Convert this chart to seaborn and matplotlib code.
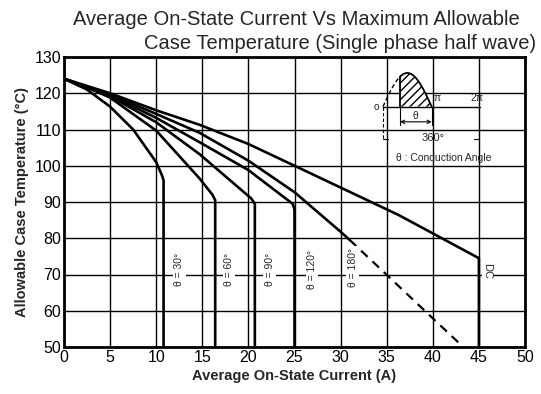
import numpy as np
import pandas as pd
import matplotlib
matplotlib.use("Agg")
import matplotlib.pyplot as plt
import seaborn as sns

# curve data (current A, case temperature degC)
deg30_x = [0, 2.5, 5, 7.5, 10, 10.6, 10.8, 10.8]
deg30_y = [124, 121, 116.3, 110, 101, 97.5, 96, 50]
deg60_x = [0, 2.5, 5, 10, 14.7, 16.1, 16.4, 16.4]
deg60_y = [124, 121.6, 118.8, 109.7, 96.5, 92, 90.5, 50]
deg90_x = [0, 5, 10, 14.7, 20.3, 20.7, 20.7]
deg90_y = [124, 119.2, 112, 103.2, 91, 89.5, 50]
deg120_x = [0, 5, 10, 14.7, 20, 24.8, 25.0, 25.0]
deg120_y = [124, 119.5, 113.2, 106.5, 98.8, 89.5, 88, 50]
deg180_x = [0, 5, 10, 14.7, 20, 25, 30, 31]
deg180_y = [124, 119.7, 114.3, 109.1, 101.4, 92.7, 81.8, 79.5]
deg180_ext_x = [31, 43.3]
deg180_ext_y = [79.5, 50]
dc_x = [0, 5, 10, 14.7, 20, 25, 36.3, 45, 45]
dc_y = [124, 120, 115.3, 111.3, 106, 100, 86.4, 74.5, 50]

curve_labels = ["θ = 30°", "θ = 60°", "θ = 90°", "θ = 120°", "θ = 180°"]
label_x = [12.5, 17.9, 22.3, 26.9, 31.3]
label_y = [71.5, 71.5, 71.5, 71.5, 72.0]

x_ticks = list(range(0, 51, 5))
y_ticks = list(range(50, 131, 10))

sns.set_theme(style="white")
plt.rcParams["font.family"] = ["Liberation Sans", "DejaVu Sans"]

fig = plt.figure(figsize=(5.41, 3.94), dpi=100)
ax = fig.add_axes([64 / 541, 1 - 347 / 394, 461 / 541, 290 / 394])

curves = [(deg30_x, deg30_y), (deg60_x, deg60_y), (deg90_x, deg90_y),
          (deg120_x, deg120_y), (deg180_x, deg180_y), (dc_x, dc_y)]
for cx, cy in curves:
    df = pd.DataFrame({"I": cx, "T": cy})
    sns.lineplot(data=df, x="I", y="T", sort=False, estimator=None,
                 color="black", lw=1.9, ax=ax, zorder=3)
ext = pd.DataFrame({"I": deg180_ext_x, "T": deg180_ext_y})
sns.lineplot(data=ext, x="I", y="T", sort=False, estimator=None,
             color="black", lw=1.6, ls=(0, (4, 3)), ax=ax, zorder=3)

ax.set_xlim(0, 50)
ax.set_ylim(50, 130)
ax.set_xticks(x_ticks)
ax.set_yticks(y_ticks)
ax.grid(True, color="black", lw=1.0)
ax.set_axisbelow(True)
for s in ax.spines.values():
    s.set_color("black")
    s.set_linewidth(2.0)
ax.tick_params(length=0, labelsize=11.5, colors="black", pad=2)
ax.set_xlabel("Average On-State Current (A)", fontsize=10.5,
              fontweight="bold", labelpad=3)
ax.set_ylabel("Allowable Case Temperature (°C)", fontsize=10.5,
              fontweight="bold", labelpad=4)

for txt, lx, ly in zip(curve_labels, label_x, label_y):
    ax.text(lx, ly, txt, rotation=90, ha="center", va="center", fontsize=7.5,
            zorder=4, bbox=dict(facecolor="white", edgecolor="none", pad=1.0))
ax.text(45.9, 71, "DC", rotation=-90, ha="center", va="center", fontsize=8,
        zorder=4, bbox=dict(facecolor="white", edgecolor="none", pad=0.5))

fig.text(520 / 541, 1 - 25 / 394, "Average On-State Current Vs Maximum Allowable",
         ha="right", va="baseline", fontsize=14.5)
fig.text(536 / 541, 1 - 49 / 394, "Case Temperature (Single phase half wave)",
         ha="right", va="baseline", fontsize=14.5)

# conduction angle sketch
ins = fig.add_axes([367 / 541, 1 - 172 / 394, 136 / 541, 111 / 394], zorder=5)
ins.set_xlim(-1.03, 7.74)
ins.set_ylim(-1.94, 1.356)
ins.axis("off")
ins.patch.set_visible(True)
ins.patch.set_facecolor("white")
alpha = 1.1
ph_dash = np.linspace(0, alpha, 30)
ph_fill = np.linspace(alpha, np.pi, 60)
ins.plot(ph_dash, np.sin(ph_dash), color="black", lw=1.0, ls=(0, (3, 2)))
ins.plot(ph_fill, np.sin(ph_fill), color="black", lw=1.3)
ins.fill_between(ph_fill, 0, np.sin(ph_fill), facecolor="white",
                 edgecolor="black", hatch="////", lw=0)
ins.plot([alpha, alpha], [0, np.sin(alpha)], color="black", lw=1.3)
ins.plot([0, 2 * np.pi], [0, 0], color="black", lw=1.0)
ins.text(-0.25, 0, "o", ha="right", va="center", fontsize=7.5)
ins.text(3.5, 0.1, "π", ha="center", va="bottom", fontsize=7.5)
ins.text(6.05, 0.1, "2π", ha="center", va="bottom", fontsize=7.5)
for p in [alpha, np.pi]:
    ins.plot([p, p], [0, -0.55], color="black", lw=0.8)
ins.annotate("", xy=(alpha, -0.45), xytext=(np.pi, -0.45),
             arrowprops=dict(arrowstyle="<->", lw=0.8, color="black",
                             shrinkA=0, shrinkB=0, mutation_scale=6))
ins.text((alpha + np.pi) / 2, -0.28, "θ", ha="center", va="center", fontsize=7.5)
ins.plot([0, 0], [0, -0.95], color="black", lw=0.8, ls=(0, (3, 2)))
ins.plot([0, 0.35], [-0.95, -0.95], color="black", lw=0.8)
ins.plot([6.2, 6.2], [-0.8, -0.95], color="black", lw=0.8)
ins.plot([5.85, 6.2], [-0.95, -0.95], color="black", lw=0.8)
ins.text(3.2, -0.92, "360°", ha="center", va="center", fontsize=8)
ins.text(3.9, -1.52, "θ : Conduction Angle", ha="center", va="center",
         fontsize=7.5)

fig.savefig("out.png", dpi=100)
